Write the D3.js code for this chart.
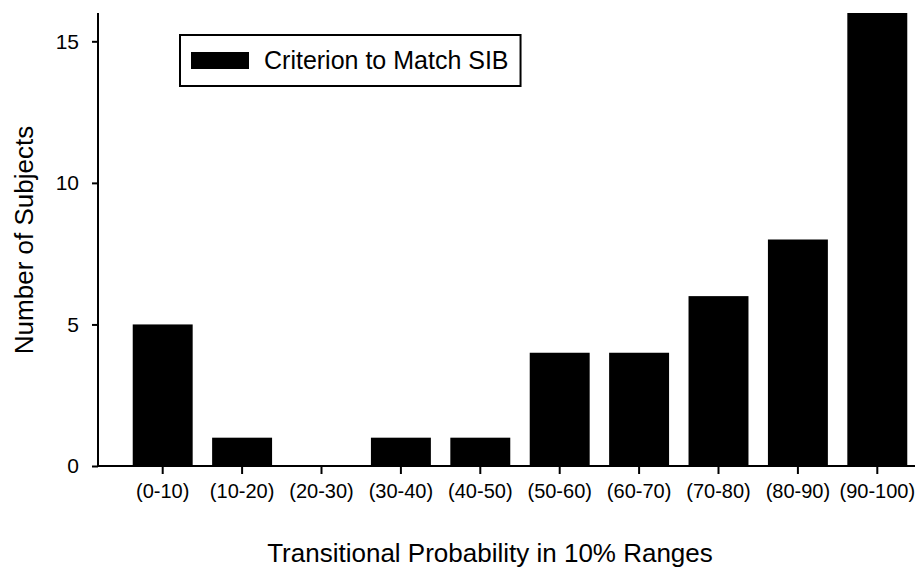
<!DOCTYPE html>
<html>
<head>
<meta charset="utf-8">
<script src="https://cdn.jsdelivr.net/npm/d3@7"></script>
<style>
  body { margin: 0; background: #fff; }
  text { font-family: "Liberation Sans", Arial, sans-serif; fill: #000; }
</style>
</head>
<body>
<div class="chart"></div>
<script>
(function() {
  // data
  var categories = ["(0-10)", "(10-20)", "(20-30)", "(30-40)", "(40-50)",
                    "(50-60)", "(60-70)", "(70-80)", "(80-90)", "(90-100)"];
  var subjects = [5, 1, 0, 1, 1, 4, 4, 6, 8, 16];
  var yTicks = [0, 5, 10, 15];
  var seriesName = "Criterion to Match SIB";

  var width = 918, height = 569;
  var axisX = 98, axisY = 466, axisTop = 13, axisRight = 915;

  var svg = d3.select(".chart").append("svg")
    .attr("width", width)
    .attr("height", height);

  var x = d3.scaleBand()
    .domain(categories)
    .range([123, 917])
    .paddingInner(0.245)
    .paddingOuter(0.1225);

  var y = d3.scaleLinear()
    .domain([0, 16])
    .range([axisY, axisTop]);

  // bars
  svg.append("g").selectAll("rect")
    .data(subjects)
    .enter().append("rect")
      .attr("x", function(d, i) { return x(categories[i]); })
      .attr("y", function(d) { return y(d); })
      .attr("width", x.bandwidth())
      .attr("height", function(d) { return axisY - y(d); })
      .attr("fill", "#000");

  // y axis
  var gy = svg.append("g")
    .attr("transform", "translate(" + axisX + ",0)")
    .call(d3.axisLeft(y).tickValues(yTicks).tickSize(6).tickPadding(13).tickSizeOuter(0));
  gy.select(".domain").remove();
  gy.selectAll("line").attr("stroke-width", 2);
  gy.selectAll("text").style("font-size", "21px").attr("font-family", null);
  svg.append("line")
    .attr("x1", axisX).attr("x2", axisX)
    .attr("y1", axisTop).attr("y2", axisY + 1)
    .attr("stroke", "#000").attr("stroke-width", 2);

  // x axis
  var gx = svg.append("g")
    .attr("transform", "translate(0," + axisY + ")")
    .call(d3.axisBottom(x).tickSize(8).tickPadding(10).tickSizeOuter(0));
  gx.select(".domain").remove();
  gx.selectAll("line").attr("stroke-width", 2);
  gx.selectAll("text").style("font-size", "20px").attr("font-family", null);
  svg.append("line")
    .attr("x1", axisX - 1).attr("x2", axisRight)
    .attr("y1", axisY).attr("y2", axisY)
    .attr("stroke", "#000").attr("stroke-width", 2);

  // titles
  svg.append("text")
    .attr("x", 490).attr("y", 562)
    .attr("text-anchor", "middle")
    .style("font-size", "26px")
    .text("Transitional Probability in 10% Ranges");

  svg.append("text")
    .attr("transform", "translate(33,240) rotate(-90)")
    .attr("text-anchor", "middle")
    .style("font-size", "26px")
    .text("Number of Subjects");

  // legend
  var lg = svg.append("g");
  var lt = lg.append("text")
    .attr("x", 264).attr("y", 69)
    .style("font-size", "25px")
    .text(seriesName);
  var tw = lt.node().getComputedTextLength();
  lg.insert("rect", "text")
    .attr("x", 180).attr("y", 35)
    .attr("width", 264 + tw + 12 - 180).attr("height", 51)
    .attr("fill", "#fff").attr("stroke", "#000").attr("stroke-width", 2);
  lg.append("rect")
    .attr("x", 191).attr("y", 52)
    .attr("width", 58).attr("height", 17)
    .attr("fill", "#000");
})();
</script>
</body>
</html>
